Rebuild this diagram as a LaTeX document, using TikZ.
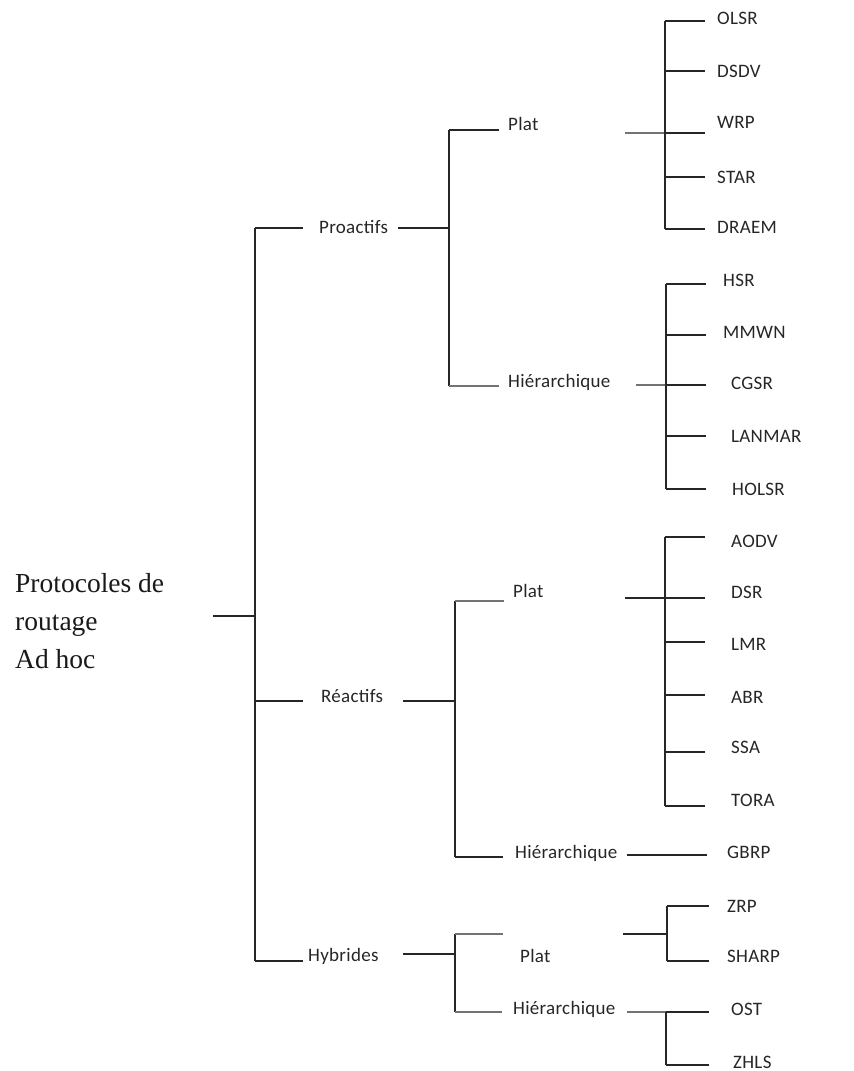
\documentclass[tikz,border=0pt]{standalone}
\usepackage{fontspec}
\setmainfont{Carlito}[LetterSpace=1.5]
\newfontfamily\rootfont{Liberation Serif}
\begin{document}
\begin{tikzpicture}[x=1pt,y=-1pt,
  lbl/.style={anchor=base west,inner sep=0pt,font=\fontsize{19}{22}\selectfont,text=black!85},
  rootlbl/.style={anchor=north west,inner sep=0pt,align=left,
    font=\rootfont\fontsize{27.5}{38}\selectfont,text=black!90},
  ln/.style={line width=1.8pt,draw=black!85},
  lng/.style={line width=2.3pt,draw=black!55},
]
\useasboundingbox (0,0) rectangle (854,1071);

% ---------- labels ----------
\node[rootlbl] (root) at (15,573) {Protocoles de\\routage\\Ad hoc};

\node[lbl] (pro) at (319,233) {Proactifs};
\node[lbl] (rea) at (321,702) {Réactifs};
\node[lbl] (hyb) at (308,961) {Hybrides};

\node[lbl] (proP) at (508,130) {Plat};
\node[lbl] (proH) at (508,387) {Hiérarchique};
\node[lbl] (reaP) at (513,597) {Plat};
\node[lbl] (reaH) at (515,858) {Hiérarchique};
\node[lbl] (hybP) at (520,962) {Plat};
\node[lbl] (hybH) at (513,1014) {Hiérarchique};

\node[lbl] (olsr)  at (717,24)  {OLSR};
\node[lbl] (dsdv)  at (717,77)  {DSDV};
\node[lbl] (wrp)   at (717,128) {WRP};
\node[lbl] (star)  at (717,183) {STAR};
\node[lbl] (draem) at (717,233) {DRAEM};

\node[lbl] (hsr)    at (723,286) {HSR};
\node[lbl] (mmwn)   at (723,338) {MMWN};
\node[lbl] (cgsr)   at (731,389) {CGSR};
\node[lbl] (lanmar) at (731,442) {LANMAR};
\node[lbl] (holsr)  at (732,495) {HOLSR};

\node[lbl] (aodv) at (731,547) {AODV};
\node[lbl] (dsr)  at (731,598) {DSR};
\node[lbl] (lmr)  at (731,650) {LMR};
\node[lbl] (abr)  at (731,703) {ABR};
\node[lbl] (ssa)  at (731,753) {SSA};
\node[lbl] (tora) at (731,806) {TORA};

\node[lbl] (gbrp) at (727,858) {GBRP};

\node[lbl] (zrp)   at (727,912)  {ZRP};
\node[lbl] (sharp) at (727,962)  {SHARP};
\node[lbl] (ost)   at (731,1015) {OST};
\node[lbl] (zhls)  at (733,1068) {ZHLS};

% ---------- junction points ----------
% root bus
\coordinate (r0) at (213,616);
\coordinate (rb) at (255,616);
\coordinate (bTop) at (255,228);
\coordinate (bMid) at (255,701);
\coordinate (bBot) at (255,961);
\coordinate (proL) at (303,228);
\coordinate (reaL) at (303,701);
\coordinate (hybL) at (303,961);

% proactive branch
\coordinate (proR) at (398,228);
\coordinate (pv)   at (449,228);
\coordinate (pvT)  at (449,130);
\coordinate (pvB)  at (449,386);
\coordinate (proPL) at (499,130);
\coordinate (proHL) at (499,386);

% reactive branch
\coordinate (reaR) at (403,701);
\coordinate (rv)   at (455,701);
\coordinate (rvT)  at (455,601);
\coordinate (rvB)  at (455,857);
\coordinate (reaPL) at (504,601);
\coordinate (reaHL) at (503,857);

% hybrid branch
\coordinate (hybR) at (403,954);
\coordinate (hv)   at (455,954);
\coordinate (hvT)  at (455,934);
\coordinate (hvB)  at (455,1012);
\coordinate (hybPL) at (503,934);
\coordinate (hybHL) at (502,1012);

% ---------- connectors ----------
\draw[ln] (r0) -- (rb);
\draw[ln] (bTop) -- (bBot);
\draw[ln] (bTop) -- (proL);
\draw[ln] (bMid) -- (reaL);
\draw[ln] (bBot) -- (hybL);

\draw[ln] (proR) -- (pv);
\draw[ln] (pvT) -- (pvB);
\draw[ln] (pvT) -- (proPL);
\draw[lng] (pvB) -- (proHL);

\draw[ln] (reaR) -- (rv);
\draw[ln] (rvT) -- (rvB);
\draw[lng] (rvT) -- (reaPL);
\draw[ln] (rvB) -- (reaHL);

\draw[ln] (hybR) -- (hv);
\draw[ln] (hvT) -- (hvB);
\draw[lng] (hvT) -- (hybPL);
\draw[lng] (hvB) -- (hybHL);

% proactive / flat leaves
\coordinate (a0) at (625,133);
\coordinate (a1) at (665,21);
\coordinate (a2) at (665,71);
\coordinate (a3) at (665,133);
\coordinate (a4) at (665,177);
\coordinate (a5) at (665,229);
\draw[lng] (a0) -- (a3);
\draw[ln] (a1) -- (a5);
\foreach \p in {a1,a2,a3,a4,a5}
  \draw[ln] (\p) -- (\p -| 705,0);

% proactive / hierarchical leaves
\coordinate (b0) at (636,385);
\coordinate (b1) at (666,284);
\coordinate (b2) at (666,335);
\coordinate (b3) at (666,385);
\coordinate (b4) at (666,436);
\coordinate (b5) at (666,489);
\draw[lng] (b0) -- (b3);
\draw[ln] (b1) -- (b5);
\foreach \p in {b1,b2,b3,b4,b5}
  \draw[ln] (\p) -- (\p -| 706,0);

% reactive / flat leaves
\coordinate (c0) at (625,598);
\coordinate (c1) at (665,537);
\coordinate (c2) at (665,598);
\coordinate (c3) at (665,642);
\coordinate (c4) at (665,695);
\coordinate (c5) at (665,752);
\coordinate (c6) at (665,806);
\draw[ln] (c0) -- (c2);
\draw[ln] (c1) -- (c6);
\foreach \p in {c1,c2,c3,c4,c5,c6}
  \draw[ln] (\p) -- (\p -| 705,0);

% reactive / hierarchical leaf
\coordinate (d0) at (627,855);
\coordinate (d1) at (707,855);
\draw[ln] (d0) -- (d1);

% hybrid / flat leaves
\coordinate (e0) at (623,934);
\coordinate (e1) at (667,906);
\coordinate (e2) at (667,934);
\coordinate (e3) at (667,961);
\draw[ln] (e0) -- (e2);
\draw[ln] (e1) -- (e3);
\draw[ln] (e1) -- (e1 -| 709,0);
\draw[ln] (e3) -- (e3 -| 709,0);

% hybrid / hierarchical leaves
\coordinate (f0) at (627,1012);
\coordinate (f1) at (666,1012);
\coordinate (f2) at (666,1065);
\draw[lng] (f0) -- (f1);
\draw[ln] (f1) -- (f2);
\draw[ln] (f1) -- (f1 -| 709,0);
\draw[ln] (f2) -- (f2 -| 709,0);
\end{tikzpicture}
\end{document}
